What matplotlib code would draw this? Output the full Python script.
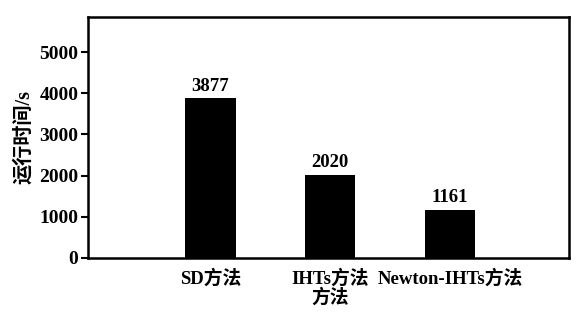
import matplotlib
matplotlib.use("Agg")
import matplotlib.pyplot as plt

categories = ["SD方法", "IHTs方法\n方法", "Newton-IHTs方法"]
values = [3877, 2020, 1161]
yticks = [0, 1000, 2000, 3000, 4000, 5000]

fam = ["Liberation Serif", "Noto Sans CJK SC"]
plt.rcParams["font.family"] = fam

fig = plt.figure(figsize=(5.88, 3.15), dpi=100)
ax = fig.add_axes([88/588, 1-258/315, (569-88)/588, (258-17)/315])
x = list(range(len(categories)))
ax.bar(x, values, width=0.42, color="black")
for xi, v in zip(x, values):
    ax.text(xi, v + 90, str(v), ha="center", va="bottom", fontsize=13.5, fontweight="bold")
ax.set_xlim(-1.02, 2.99)
ax.set_ylim(0, 5850)
ax.set_yticks(yticks)
ax.set_yticklabels([str(t) for t in yticks], fontsize=14, fontweight="bold")
ax.set_xticks(x)
ax.set_xticklabels(categories, fontsize=13.5, fontweight="bold", linespacing=1.05)
ax.tick_params(axis="x", length=0, pad=8)
ax.tick_params(axis="y", length=5, width=1.5, pad=2)
for s in ax.spines.values():
    s.set_linewidth(1.8)
ax.set_ylabel("运行时间/s", fontsize=14.5, fontweight="bold", labelpad=4)
fig.savefig("out.png", dpi=100)
